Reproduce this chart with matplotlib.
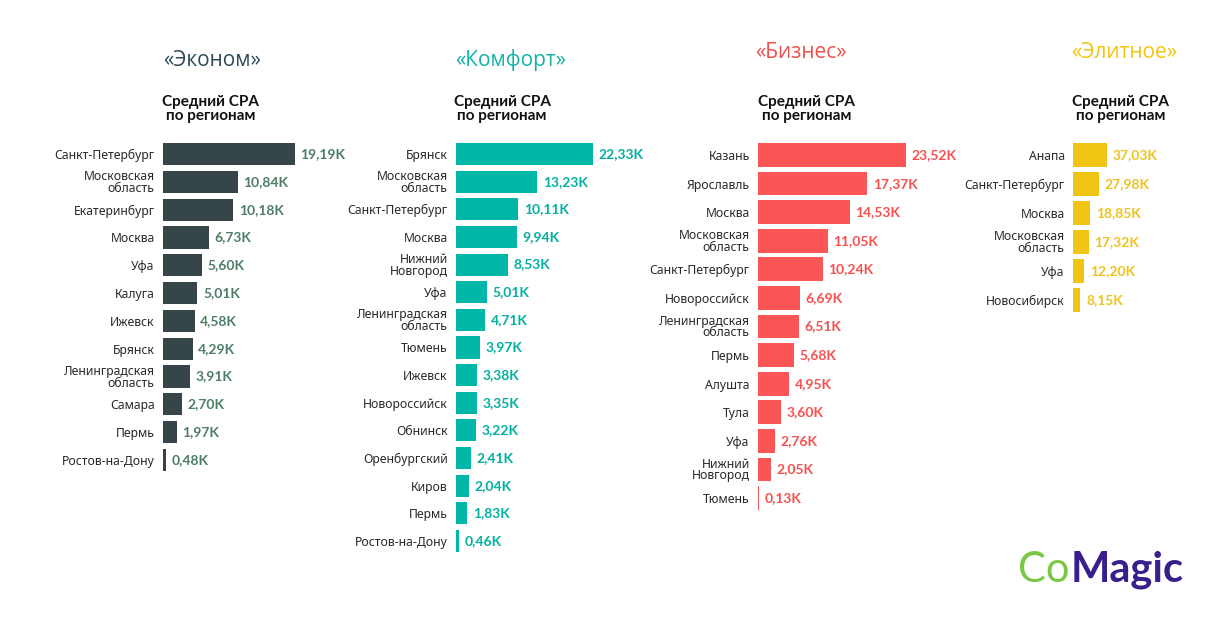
import matplotlib.pyplot as plt

# данные: средний CPA по регионам, тыс.
ekonom_reg = ["Санкт-Петербург", "Московская\nобласть", "Екатеринбург", "Москва", "Уфа",
              "Калуга", "Ижевск", "Брянск", "Ленинградская\nобласть", "Самара", "Пермь",
              "Ростов-на-Дону"]
ekonom_val = [19.19, 10.84, 10.18, 6.73, 5.60, 5.01, 4.58, 4.29, 3.91, 2.70, 1.97, 0.48]

komfort_reg = ["Брянск", "Московская\nобласть", "Санкт-Петербург", "Москва", "Нижний\nНовгород",
               "Уфа", "Ленинградская\nобласть", "Тюмень", "Ижевск", "Новороссийск", "Обнинск",
               "Оренбургский", "Киров", "Пермь", "Ростов-на-Дону"]
komfort_val = [22.33, 13.23, 10.11, 9.94, 8.53, 5.01, 4.71, 3.97, 3.38, 3.35, 3.22, 2.41,
               2.04, 1.83, 0.46]

biznes_reg = ["Казань", "Ярославль", "Москва", "Московская\nобласть", "Санкт-Петербург",
              "Новороссийск", "Ленинградская\nобласть", "Пермь", "Алушта", "Тула", "Уфа",
              "Нижний\nНовгород", "Тюмень"]
biznes_val = [23.52, 17.37, 14.53, 11.05, 10.24, 6.69, 6.51, 5.68, 4.95, 3.60, 2.76, 2.05, 0.13]

elit_reg = ["Анапа", "Санкт-Петербург", "Москва", "Московская\nобласть", "Уфа", "Новосибирск"]
elit_val = [37.03, 27.98, 18.85, 17.32, 12.20, 8.15]

W, H = 1230, 644
fig = plt.figure(figsize=(W / 100, H / 100), dpi=100)

# (заголовок, цвет заголовка, цвет бара, цвет подписи, регионы, значения,
#  x начала бара, px на единицу, y центра первой и последней строки, x центра заголовка, y заголовка, x подзаголовка, высота бара)
panels = [
    ("«Эконом»", "#2f4b55", "#364547", "#4d7d66", ekonom_reg, ekonom_val, 163, 6.88, 154, 460, 212, 60, 211, 0.8),
    ("«Комфорт»", "#14b3a8", "#00b6a6", "#00b0a0", komfort_reg, komfort_val, 456, 6.14, 154, 541, 511, 60, 502, 0.8),
    ("«Бизнес»", "#f0504d", "#fb5555", "#f84f4f", biznes_reg, biznes_val, 758, 6.3, 155, 498, 801, 53, 807, 0.83),
    ("«Элитное»", "#f2c40f", "#f2c514", "#f0c21a", elit_reg, elit_val, 1073, 0.92, 155, 300, 1124, 53, 1121, 0.82),
]

for title, tcol, bcol, lcol, regs, vals, x0, scale, yc0, yc1, tx, ty, sx, bh in panels:
    n = len(vals)
    step = (yc1 - yc0) / (n - 1)
    top = yc0 - step / 2
    bottom = yc1 + step / 2
    aw = 150
    ax = fig.add_axes([x0 / W, 1 - bottom / H, aw / W, (bottom - top) / H])
    ax.barh(range(n), vals, height=bh, color=bcol)
    ax.set_xlim(0, aw / scale)
    ax.set_ylim(n - 0.5, -0.5)
    ax.set_yticks(range(n))
    ax.set_yticklabels(regs, fontsize=8.8, color="#2a2a2a", family="Noto Sans", linespacing=0.85)
    ax.tick_params(axis="y", length=0, pad=6)
    ax.set_xticks([])
    for s in ax.spines.values():
        s.set_visible(False)
    labels = [("%.2fK" % v).replace(".", ",") for v in vals]
    ax.bar_label(ax.containers[0], labels=labels, padding=4, fontsize=10, fontweight="bold",
                 color=lcol, family="Lato")
    ax.patch.set_alpha(0)

    fig.text(tx / W, 1 - ty / H, title, ha="center", va="center", fontsize=15,
             color=tcol, family="Open Sans")
    fig.text(sx / W, 1 - 109 / H, "Средний CPA\nпо регионам", ha="center", va="center",
             fontsize=11, fontweight="bold", color="#111111", family="Lato", linespacing=0.95)

# логотип
fig.text(1018 / W, 1 - 570 / H, "Co", ha="left", va="center", fontsize=30, color="#79c843",
         family="Lato")
fig.text(1071 / W, 1 - 570 / H, "Magic", ha="left", va="center", fontsize=30, fontweight="bold",
         color="#3a1e8c", family="Lato")

fig.savefig("out.png", dpi=100, facecolor="white")
